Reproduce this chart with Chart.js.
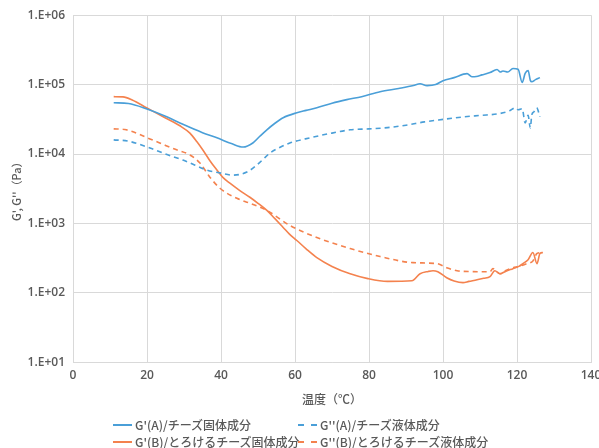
<!DOCTYPE html>
<html>
<head>
<meta charset="utf-8">
<script src="https://cdn.jsdelivr.net/npm/chart.js@4"></script>
<style>
  body { margin: 0; background: #fff; }
  #wrap { position: relative; width: 599px; height: 448px; }
  #legend { position: absolute; left: 0; top: 415px; width: 599px; font-family: "Noto Sans CJK JP", sans-serif; font-size: 12px; font-weight: 500; color: #595959; }
  .item { position: absolute; display: flex; align-items: center; height: 17px; white-space: nowrap; }
  .swatch { width: 19px; height: 0; margin-right: 3px; border-top-width: 2px; }
</style>
</head>
<body>
<div id="wrap">
  <canvas id="chart" width="599" height="448"></canvas>
  <div id="legend"></div>
</div>
<script>
// Values
const BLUE = '#4a9fd8';
const ORANGE = '#f4824e';

const seriesNames = [
    "G'(A)/チーズ固体成分",
    "G''(A)/チーズ液体成分",
    "G'(B)/とろけるチーズ固体成分",
    "G''(B)/とろけるチーズ液体成分"
];

const yTicks = [10, 100, 1000, 10000, 100000, 1000000];

// G'(A)
const tempGA1 = [11, 15, 20, 25, 29.7, 35, 38.9, 43, 46, 48.6, 50.5, 52.4, 54.5, 56.8, 60.5, 63, 65.9, 70, 74, 78, 83, 88, 92, 93.8, 95.7, 98, 100, 103, 106.5, 107.8, 109, 110.5, 112.7, 114.6, 115.5, 116.2, 117.5, 118.9, 120.3, 121.4, 122.2, 123, 123.6, 124, 125, 126.2];
const valGA1 = [54800, 53500, 44500, 35000, 26800, 20300, 17100, 14000, 12600, 14400, 18000, 22300, 27500, 33300, 39300, 42500, 46400, 54000, 60700, 67000, 79000, 88000, 97000, 103000, 96800, 100000, 114000, 126000, 144000, 130000, 131000, 138000, 149000, 165000, 152000, 157000, 152000, 171000, 166000, 107000, 145000, 160000, 115000, 110000, 118000, 126000];

// G''(A)
const tempGA2 = [11, 15, 20.8, 25, 29.7, 33, 36.2, 40, 43.2, 47, 49.7, 51.5, 53.2, 56, 58.6, 64, 70, 74.9, 80, 85, 90, 95, 100, 105, 110, 115, 118, 119.5, 120.3, 121.4, 122.2, 123, 123.6, 124, 124.6, 125.3, 126.2];
const valGA2 = [16000, 15300, 12200, 10000, 8180, 6900, 5860, 5300, 4960, 5490, 6930, 8500, 10300, 12500, 14400, 17100, 20000, 22300, 23000, 24000, 26000, 29000, 31500, 34000, 36000, 38000, 42000, 46400, 43400, 45000, 28100, 36000, 23800, 36700, 40600, 46400, 34500];

// G'(B)
const tempGB1 = [11, 13.5, 16, 20, 25, 28.9, 31.6, 33.5, 35.1, 37, 38.9, 40.5, 42.4, 45, 47.8, 50, 52.4, 54.5, 56.8, 58.5, 60.5, 63, 65.9, 70, 74.9, 79.7, 85, 91.6, 93.8, 96, 97.3, 98.6, 101, 103, 105.4, 107, 109.2, 111, 112.7, 114, 115.4, 117, 118.9, 120.5, 121.6, 123, 124.3, 125.4, 126.2, 127];
const valGB1 = [67000, 66500, 60000, 46000, 33000, 25500, 20000, 15000, 11400, 8000, 5860, 4600, 3800, 3000, 2380, 1950, 1540, 1180, 875, 700, 567, 430, 321, 240, 188, 160, 146, 149, 188, 203, 208, 201, 165, 148, 140, 146, 154, 162, 171, 208, 188, 205, 223, 240, 263, 300, 380, 263, 368, 380];

// G''(B)
const tempGB2 = [11, 14, 20.8, 25, 28, 31.6, 34.3, 37, 39.7, 44.3, 47.8, 52.4, 58.6, 65.9, 74.9, 83, 91.9, 98.4, 101, 103.8, 108, 112.7, 113.5, 115.4, 117, 118.9, 120.5, 122.7, 124.3, 125.4, 126.8];
const valGB2 = [23000, 22500, 16500, 13300, 11500, 9690, 7410, 4640, 3210, 2300, 1950, 1540, 935, 627, 434, 333, 272, 263, 230, 208, 202, 201, 223, 188, 210, 230, 240, 263, 288, 368, 380];

function toPoints(xs, ys) {
    return xs.map((x, i) => ({ x: x, y: ys[i] }));
}

const datasets = [
    { label: seriesNames[0], data: toPoints(tempGA1, valGA1), borderColor: BLUE, borderDash: [] },
    { label: seriesNames[1], data: toPoints(tempGA2, valGA2), borderColor: BLUE, borderDash: [5, 4] },
    { label: seriesNames[2], data: toPoints(tempGB1, valGB1), borderColor: ORANGE, borderDash: [] },
    { label: seriesNames[3], data: toPoints(tempGB2, valGB2), borderColor: ORANGE, borderDash: [5, 4] }
];

const textColor = '#595959';
const gridColor = '#d9d9d9';
const tickFont = { family: '"Open Sans", sans-serif', size: 12, weight: '600' };
const titleFont = { family: '"Noto Sans CJK JP", sans-serif', size: 12, weight: '500' };

const chart = new Chart(document.getElementById('chart'), {
    type: 'line',
    data: { datasets: datasets },
    options: {
        responsive: false,
        animation: false,
        layout: { padding: { left: 0, right: 8, top: 10, bottom: 37 } },
        elements: {
            point: { radius: 0 },
            line: { borderWidth: 1.6, cubicInterpolationMode: 'monotone', fill: false }
        },
        plugins: {
            legend: { display: false },
            tooltip: { enabled: false }
        },
        scales: {
            x: {
                type: 'linear',
                min: 0,
                max: 140,
                ticks: { stepSize: 20, color: textColor, font: tickFont, padding: 6 },
                grid: { color: gridColor, drawTicks: false },
                border: { color: gridColor },
                title: { display: true, text: '温度（℃）', color: textColor, font: titleFont, padding: { top: 4 } },
                // let the plot run close to the right edge like the original
                afterFit: (scale) => { scale.paddingRight = 0; }
            },
            y: {
                type: 'logarithmic',
                min: 10,
                max: 1000000,
                afterBuildTicks: (scale) => {
                    scale.ticks = yTicks.map(v => ({ value: v }));
                },
                ticks: {
                    color: textColor,
                    font: tickFont,
                    padding: 8,
                    callback: (v) => '1.E+' + String(Math.round(Math.log10(v))).padStart(2, '0')
                },
                grid: { color: gridColor, drawTicks: false },
                border: { color: gridColor },
                title: { display: true, text: "G', G''（Pa）", color: textColor, font: { ...titleFont, size: 11 }, padding: { top: 10, bottom: 4 } },
                afterFit: (scale) => { scale.width = 73; }
            }
        }
    }
});

// Two-column legend like the original
const legendPos = [
    { left: 113, top: 1 }, { left: 298, top: 1 },
    { left: 113, top: 18 }, { left: 298, top: 18 }
];
const legend = document.getElementById('legend');
chart.data.datasets.forEach((ds, i) => {
    const item = document.createElement('div');
    item.className = 'item';
    item.style.left = legendPos[i].left + 'px';
    item.style.top = legendPos[i].top + 'px';
    const sw = document.createElement('span');
    sw.className = 'swatch';
    sw.style.borderTopStyle = ds.borderDash.length ? 'dashed' : 'solid';
    sw.style.borderTopColor = ds.borderColor;
    item.appendChild(sw);
    item.appendChild(document.createTextNode(ds.label));
    legend.appendChild(item);
});
</script>
</body>
</html>
